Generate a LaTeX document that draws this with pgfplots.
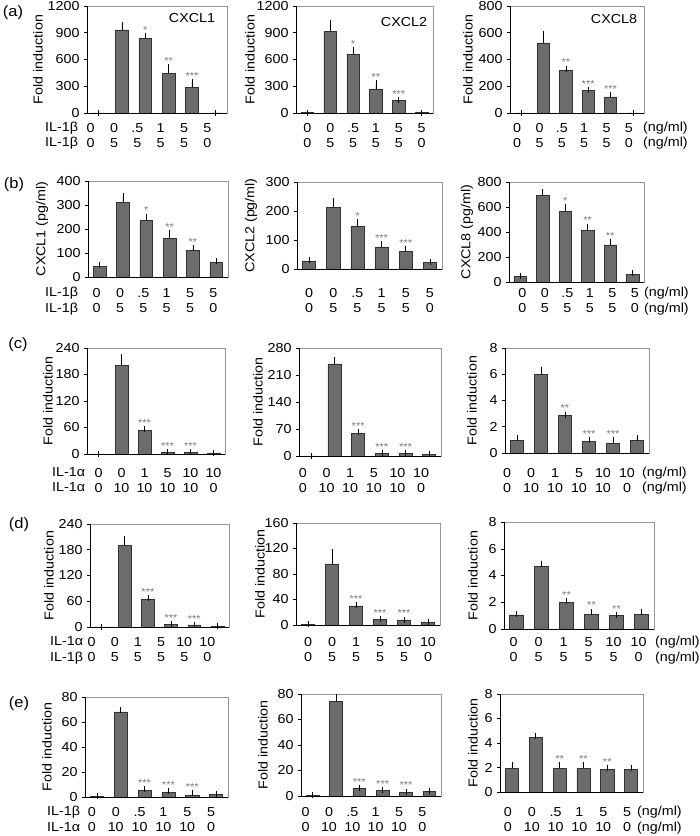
\documentclass[border=0pt]{standalone}
\usepackage{fontspec}
\setmainfont{Liberation Sans}[FakeStretch=1.1]
\usepackage{pgfplots}
\pgfplotsset{compat=1.18}
\definecolor{barfill}{RGB}{108,108,108}
\definecolor{baredge}{RGB}{50,50,50}
\definecolor{framegray}{RGB}{150,150,150}
\definecolor{stargray}{RGB}{120,120,120}
\newcommand\tf{\fontsize{13}{15}\selectfont}
\pgfplotsset{
  panel/.style={
    scale only axis, anchor=south west, clip=false,
    xmin=0.5, xmax=6.5, ymin=0,
    xtick={1,2,3,4,5,6},
    ytick pos=left,
    tick align=outside,
    major tick length=3pt,
    ytick style={black, line width=0.5pt},
    xtick style={draw=none},
    axis line style={framegray, line width=0.6pt},
    /pgf/number format/assume math mode=true,
    /pgf/number format/1000 sep={},
    scaled y ticks=false,
    tick label style={font=\tf},
    yticklabel style={xshift=-1pt},
    xticklabel style={align=center, anchor=center, font=\tf},
    ylabel style={font=\fontsize{13}{15}\selectfont, anchor=center},
    after end axis/.code={\draw[black, line width=0.6pt] (rel axis cs:0,1) -- (rel axis cs:0,0) -- (rel axis cs:1,0);},
  },
  labA/.style={xticklabels={{0\\0},{0\\5},{.5\\5},{1\\5},{5\\5},{5\\0}}},
  labC/.style={xticklabels={{0\\0},{0\\10},{1\\10},{5\\10},{10\\10},{10\\0}}},
  labD/.style={xticklabels={{0\\0},{0\\5},{1\\5},{5\\5},{10\\5},{10\\0}}},
  labE/.style={xticklabels={{0\\0},{0\\10},{.5\\10},{1\\10},{5\\10},{5\\0}}},
  lab/.style 2 args={xticklabel style={xshift=#1pt, yshift=-#2pt+3pt}},
  yl/.style={ylabel style={at={(axis description cs:-#1,0.5)}}},
  bars/.style={ybar, bar width=0.55, fill=barfill, draw=baredge, line width=0.5pt,
    error bars/.cd, y dir=plus, y explicit, error mark=-,
    error mark options={black, mark size=3pt, line width=0.6pt},
    error bar style={black, line width=0.6pt}},
  stars/.style={draw=none, mark=none, nodes near coords, point meta=explicit symbolic,
    nodes near coords style={anchor=south, inner sep=0pt, yshift=2.5pt,
      font=\fontsize{10}{10}\selectfont, text=stargray}},
}
\begin{document}
\begin{tikzpicture}
\useasboundingbox (0,0) rectangle (700pt,836pt);
% ---------------- row (a)
\begin{axis}[panel, at={(87pt,723pt)}, width=140pt, height=107pt, ymax=1200,
  ytick={0,300,600,900,1200}, labA, lab={-8}{22.5}, ylabel={Fold induction}, yl=0.35]
\addplot[bars] coordinates {(1,0) +- (0,0) (2,932) +- (0,50) (3,836) +- (0,30) (4,446) +- (0,67) (5,290) +- (0,55) (6,0) +- (0,0)};
\addplot[stars] coordinates {(3,866)[*] (4,513)[**] (5,345)[***]};
\end{axis}
\begin{axis}[panel, at={(296pt,723pt)}, width=137pt, height=107pt, ymax=1200,
  ytick={0,300,600,900,1200}, labA, lab={0}{22.5}, ylabel={Fold induction}, yl=0.336]
\addplot[bars] coordinates {(1,3) +- (0,0) (2,915) +- (0,90) (3,660) +- (0,45) (4,270) +- (0,65) (5,140) +- (0,8) (6,3) +- (0,0)};
\addplot[stars] coordinates {(3,705)[*] (4,335)[**] (5,148)[***]};
\end{axis}
\begin{axis}[panel, at={(510pt,723pt)}, width=134pt, height=107pt, ymax=800,
  ytick={0,200,400,600,800}, labA, lab={-4}{22.5}, ylabel={Fold induction}, yl=0.313]
\addplot[bars] coordinates {(1,0) +- (0,0) (2,525) +- (0,65) (3,320) +- (0,12) (4,168) +- (0,5) (5,120) +- (0,16) (6,0) +- (0,0)};
\addplot[stars] coordinates {(3,332)[**] (4,173)[***] (5,136)[***]};
\end{axis}
% ---------------- row (b)
\begin{axis}[panel, at={(88pt,559pt)}, width=140pt, height=96pt, ymax=400,
  ytick={0,100,200,300,400}, labA, lab={-3}{24}, ylabel={CXCL1 (pg/ml)}, yl=0.329]
\addplot[bars] coordinates {(1,45) +- (0,3) (2,311) +- (0,27) (3,236) +- (0,16) (4,162) +- (0,22) (5,110) +- (0,10) (6,60) +- (0,6)};
\addplot[stars] coordinates {(3,252)[*] (4,184)[**] (5,120)[**]};
\end{axis}
\begin{axis}[panel, at={(297pt,567pt)}, width=145pt, height=87pt, ymax=300,
  ytick={0,100,200,300}, labA, lab={0}{32}, ylabel={CXCL2 (pg/ml)}, yl=0.317]
\addplot[bars] coordinates {(1,28) +- (0,3) (2,213) +- (0,20) (3,148) +- (0,13) (4,76) +- (0,9) (5,62) +- (0,7) (6,22) +- (0,2)};
\addplot[stars] coordinates {(3,161)[*] (4,85)[***] (5,69)[***]};
\end{axis}
\begin{axis}[panel, at={(509pt,554pt)}, width=135pt, height=100pt, ymax=800,
  ytick={0,200,400,600,800}, labA, lab={2}{18.5}, ylabel={CXCL8 (pg/ml)}, yl=0.311]
\addplot[bars] coordinates {(1,45) +- (0,3) (2,690) +- (0,32) (3,565) +- (0,32) (4,415) +- (0,28) (5,297) +- (0,25) (6,62) +- (0,6)};
\addplot[stars] coordinates {(3,597)[*] (4,443)[**] (5,322)[**]};
\end{axis}
% ---------------- row (c)
\begin{axis}[panel, at={(87pt,382pt)}, width=138pt, height=106pt, ymax=240,
  ytick={0,60,120,180,240}, labC, lab={0}{26.5}, ylabel={Fold induction}, yl=0.283]
\addplot[bars] coordinates {(1,0) +- (0,0) (2,201) +- (0,18) (3,54) +- (0,3) (4,4.5) +- (0,0.5) (5,4.5) +- (0,0.5) (6,2.3) +- (0,0.3)};
\addplot[stars] coordinates {(3,57)[***] (4,5)[***] (5,5)[***]};
\end{axis}
\begin{axis}[panel, at={(299pt,380pt)}, width=142pt, height=108pt, ymax=280,
  ytick={0,70,140,210,280}, labC, lab={-8}{24.5}, ylabel={Fold induction}, yl=0.289]
\addplot[bars] coordinates {(1,0) +- (0,0) (2,239) +- (0,9) (3,59) +- (0,3) (4,7) +- (0,0.5) (5,6) +- (0,1) (6,5) +- (0,0.3)};
\addplot[stars] coordinates {(3,62)[***] (4,7.5)[***] (5,7)[***]};
\end{axis}
\begin{axis}[panel, at={(505pt,383pt)}, width=144pt, height=105pt, ymax=8,
  ytick={0,2,4,6,8}, labC, lab={-10}{27.5}, ylabel={Fold induction}, yl=0.229]
\addplot[bars] coordinates {(1,0.96) +- (0,0.16) (2,5.97) +- (0,0.38) (3,2.84) +- (0,0.08) (4,0.89) +- (0,0.1) (5,0.76) +- (0,0.2) (6,0.96) +- (0,0.16)};
\addplot[stars] coordinates {(3,2.92)[**] (4,1.0)[***] (5,0.97)[***]};
\end{axis}
% ---------------- row (d)
\begin{axis}[panel, at={(90pt,209pt)}, width=139pt, height=103pt, ymax=240,
  ytick={0,60,120,180,240}, labD, lab={-10}{23}, ylabel={Fold induction}, yl=0.295]
\addplot[bars] coordinates {(1,0) +- (0,0) (2,191) +- (0,15) (3,65) +- (0,2) (4,6) +- (0,0.5) (5,4.7) +- (0,0.5) (6,1.5) +- (0,0.2)};
\addplot[stars] coordinates {(3,67)[***] (4,6.5)[***] (5,5.2)[***]};
\end{axis}
\begin{axis}[panel, at={(296pt,211pt)}, width=144pt, height=102pt, ymax=160,
  ytick={0,40,80,120,160}, labD, lab={0}{25}, ylabel={Fold induction}, yl=0.25]
\addplot[bars] coordinates {(1,1) +- (0,0.2) (2,96) +- (0,19) (3,30) +- (0,1.2) (4,9) +- (0,0.6) (5,8) +- (0,0.6) (6,4.7) +- (0,0.3)};
\addplot[stars] coordinates {(3,31.2)[***] (4,9.6)[***] (5,8.6)[***]};
\end{axis}
\begin{axis}[panel, at={(504pt,207pt)}, width=150pt, height=107pt, ymax=8,
  ytick={0,2,4,6,8}, labD, lab={-3}{21}, ylabel={Fold induction}, yl=0.207]
\addplot[bars] coordinates {(1,1.05) +- (0,0.05) (2,4.7) +- (0,0.15) (3,2.0) +- (0,0.06) (4,1.12) +- (0,0.18) (5,1.0) +- (0,0.06) (6,1.12) +- (0,0.18)};
\addplot[stars] coordinates {(3,2.06)[**] (4,1.3)[**] (5,1.06)[**]};
\end{axis}
% ---------------- row (e)
\begin{axis}[panel, at={(85pt,39pt)}, width=143pt, height=100pt, ymax=80,
  ytick={0,20,40,60,80}, labE, lab={-5}{23}, ylabel={Fold induction}, yl=0.266]
\addplot[bars] coordinates {(1,0.5) +- (0,0) (2,68) +- (0,1.8) (3,5.3) +- (0,1) (4,3.6) +- (0,0.9) (5,1.3) +- (0,1.9) (6,2.1) +- (0,0.2)};
\addplot[stars] coordinates {(3,6.3)[***] (4,4.5)[***] (5,3.2)[***]};
\end{axis}
\begin{axis}[panel, at={(301pt,40pt)}, width=140pt, height=102pt, ymax=80,
  ytick={0,20,40,60,80}, labE, lab={-7}{24}, ylabel={Fold induction}, yl=0.271]
\addplot[bars] coordinates {(1,0.5) +- (0,0) (2,74.5) +- (0,3.2) (3,6) +- (0,0.3) (4,4.4) +- (0,0.3) (5,3.1) +- (0,0.3) (6,3.6) +- (0,0.3)};
\addplot[stars] coordinates {(3,6.3)[***] (4,4.7)[***] (5,3.4)[***]};
\end{axis}
\begin{axis}[panel, at={(500pt,44pt)}, width=143pt, height=98pt, ymax=8,
  ytick={0,2,4,6,8}, labE, lab={-4}{28}, ylabel={Fold induction}, yl=0.189]
\addplot[bars] coordinates {(1,1.93) +- (0,0.25) (2,4.43) +- (0,0.15) (3,1.93) +- (0,0.27) (4,1.93) +- (0,0.27) (5,1.82) +- (0,0.13) (6,1.82) +- (0,0.12)};
\addplot[stars] coordinates {(3,2.2)[**] (4,2.2)[**] (5,1.95)[**]};
\end{axis}
% ---------------- texts
\begin{scope}[every node/.style={font=\tf, inner sep=0pt}]
\node[anchor=base west] at (45pt,704pt) {IL-1β};
\node[anchor=base west] at (45pt,689pt) {IL-1β};
\node[anchor=base west] at (45pt,539pt) {IL-1β};
\node[anchor=base west] at (45pt,523pt) {IL-1β};
\node[anchor=base west] at (52pt,359pt) {IL-1α};
\node[anchor=base west] at (52pt,344pt) {IL-1α};
\node[anchor=base west] at (50pt,190pt) {IL-1α};
\node[anchor=base west] at (50pt,174pt) {IL-1β};
\node[anchor=base west] at (47pt,20pt) {IL-1β};
\node[anchor=base west] at (47pt,4.5pt) {IL-1α};
\node[anchor=base west] at (643pt,704pt) {(ng/ml)};
\node[anchor=base west] at (643pt,689pt) {(ng/ml)};
\node[anchor=base west] at (644pt,539pt) {(ng/ml)};
\node[anchor=base west] at (644pt,523pt) {(ng/ml)};
\node[anchor=base west] at (642pt,359pt) {(ng/ml)};
\node[anchor=base west] at (642pt,344pt) {(ng/ml)};
\node[anchor=base west] at (655pt,190pt) {(ng/ml)};
\node[anchor=base west] at (655pt,174pt) {(ng/ml)};
\node[anchor=base west] at (637pt,20pt) {(ng/ml)};
\node[anchor=base west] at (637pt,4.5pt) {(ng/ml)};
\node at (192pt,818pt) {CXCL1};
\node at (404pt,814pt) {CXCL2};
\node at (614pt,817pt) {CXCL8};
\end{scope}
\begin{scope}[every node/.style={font=\fontsize{15}{17}\selectfont, inner sep=0pt}]
\node at (13pt,823pt) {(a)};
\node at (14pt,651pt) {(b)};
\node at (18pt,491pt) {(c)};
\node at (19pt,311pt) {(d)};
\node at (19pt,132pt) {(e)};
\end{scope}
\end{tikzpicture}
\end{document}
